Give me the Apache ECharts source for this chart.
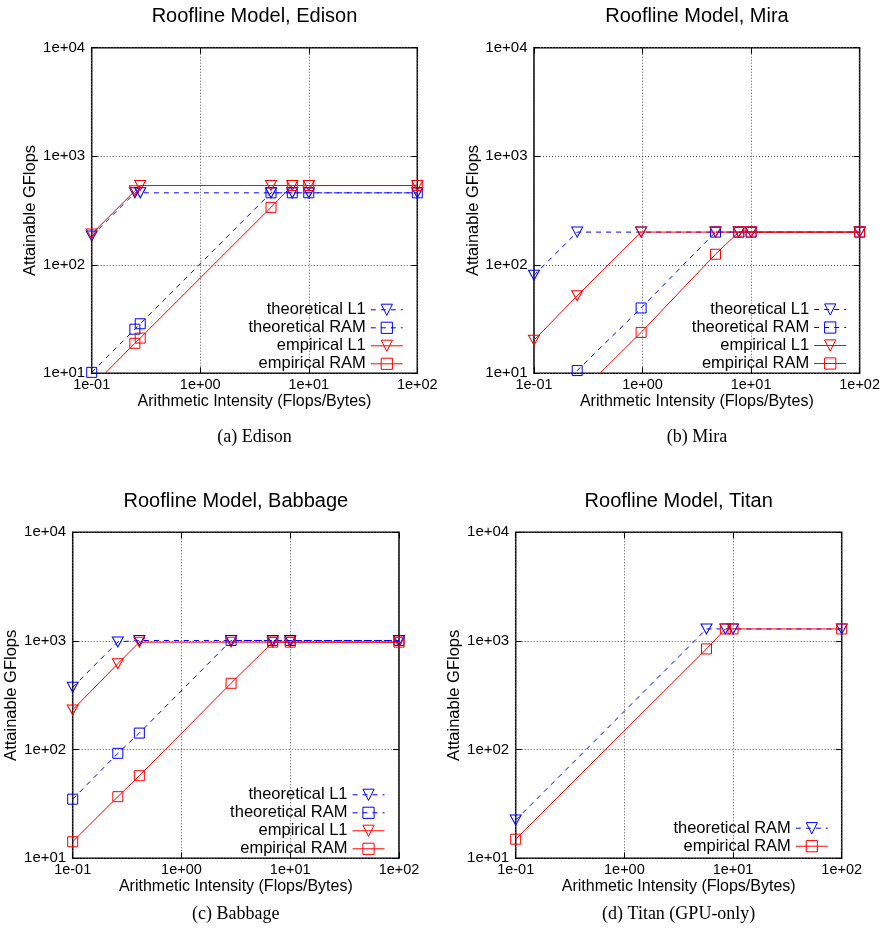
<!DOCTYPE html>
<html><head><meta charset="utf-8">
<script src="https://cdn.jsdelivr.net/npm/echarts@6/dist/echarts.min.js"></script>
<style>html,body{margin:0;padding:0;background:#fff}#c{width:883px;height:942px}</style>
</head><body><div id="c"></div>
<script>
// ---- Data ----
const edisonX      = [0.1, 0.25, 0.28, 4.49, 7.05, 10, 100];
const edisonThL1   = [184, 460, 460, 460, 460, 460, 460];
const edisonThRAM  = [10.2, 25.5, 28.6, 460, 460, 460, 460];
const edisonEmpL1  = [192, 480, 537, 537, 537, 537, 537];
const edisonEmpRAM = [7.5, 18.9, 21.1, 338, 537, 537, 537];

const miraX      = [0.1, 0.25, 0.97, 4.7, 7.7, 10, 100];
const miraThL1   = [80, 200, 200, 200, 200, 200, 200];
const miraThRAM  = [4.3, 10.6, 40, 200, 200, 200, 200];
const miraEmpL1  = [20.2, 51.8, 200, 200, 200, 200, 200];
const miraEmpRAM = [2.5, 6.2, 23.8, 125, 200, 200, 200];

const babbageX      = [0.1, 0.26, 0.41, 2.86, 6.9, 10, 100];
const babbageThL1   = [375, 980, 1010, 1010, 1010, 1010, 1010];
const babbageThRAM  = [35, 92.5, 142, 1010, 1010, 1010, 1010];
const babbageEmpL1  = [232, 618, 975, 975, 975, 975, 975];
const babbageEmpRAM = [14.2, 36.9, 57.5, 408, 975, 975, 975];

const titanX      = [0.1, 5.7, 8.5, 10, 100];
const titanThRAM  = [22.5, 1290, 1290, 1290, 1290];
const titanEmpRAM = [15, 845, 1290, 1290, 1290];

const panelTitles   = ['Roofline Model, Edison', 'Roofline Model, Mira', 'Roofline Model, Babbage', 'Roofline Model, Titan'];
const panelCaptions = ['(a) Edison', '(b) Mira', '(c) Babbage', '(d) Titan (GPU-only)'];
const xAxisName = 'Arithmetic Intensity (Flops/Bytes)';
const yAxisName = 'Attainable GFlops';

// ---- Layout ----
const grids = [
  {left: 91.7, top: 47.7, width: 325.6, height: 325.6},
  {left: 534, top: 47.7, width: 326, height: 325.6},
  {left: 72.7, top: 532.3, width: 326.3, height: 326},
  {left: 515.7, top: 532.3, width: 326, height: 326}
];
const titleY   = [16.5, 16.5, 501, 501];
const captionY = [437, 437, 914, 914];
const legendPos = [
  {right: 479.7, top: 301.3},
  {right: 36.3, top: 301},
  {right: 498, top: 786.3},
  {right: 54.7, top: 819.7}
];

const BLUE = '#0000ff', RED = '#ff0000';
const styles = {
  thL1:   {color: BLUE, dash: [5, 5], symbol: 'triangle', rot: 180, size: [11, 10]},
  thRAM:  {color: BLUE, dash: [5, 5], symbol: 'rect', rot: 0, size: 10},
  empL1:  {color: RED, dash: 'solid', symbol: 'triangle', rot: 180, size: [11, 10]},
  empRAM: {color: RED, dash: 'solid', symbol: 'rect', rot: 0, size: 10}
};

const panels = [
  {x: edisonX, series: [['theoretical L1', edisonThL1, 'thL1'], ['theoretical RAM', edisonThRAM, 'thRAM'], ['empirical L1', edisonEmpL1, 'empL1'], ['empirical RAM', edisonEmpRAM, 'empRAM']]},
  {x: miraX, series: [['theoretical L1', miraThL1, 'thL1'], ['theoretical RAM', miraThRAM, 'thRAM'], ['empirical L1', miraEmpL1, 'empL1'], ['empirical RAM', miraEmpRAM, 'empRAM']]},
  {x: babbageX, series: [['theoretical L1', babbageThL1, 'thL1'], ['theoretical RAM', babbageThRAM, 'thRAM'], ['empirical L1', babbageEmpL1, 'empL1'], ['empirical RAM', babbageEmpRAM, 'empRAM']]},
  {x: titanX, series: [['theoretical RAM', titanThRAM, 'thL1'], ['empirical RAM', titanEmpRAM, 'empRAM']]}
];

function expLabel(v) {
  const e = Math.round(Math.log10(v));
  const a = Math.abs(e);
  return '1e' + (e < 0 ? '-' : '+') + (a < 10 ? '0' : '') + a;
}

const FONT = 'Liberation Sans, Arial, Helvetica, sans-serif';
const option = {
  animation: false,
  backgroundColor: '#fff',
  grid: [], xAxis: [], yAxis: [], series: [], legend: [], graphic: []
};

panels.forEach((p, i) => {
  const g = grids[i];
  option.grid.push(Object.assign({show: true, borderColor: '#000', borderWidth: 1.5, backgroundColor: 'transparent', containLabel: false}, g));
  const tick = {show: true, inside: true, length: 6, lineStyle: {color: '#000', width: 1}};
  const split = {show: true, lineStyle: {color: '#555', width: 1, type: [1, 2]}};
  option.xAxis.push({
    type: 'log', logBase: 10, min: 0.1, max: 100, gridIndex: i, position: 'bottom',
    axisLine: {show: false}, axisTick: tick, splitLine: split, minorTick: {show: false},
    axisLabel: {formatter: expLabel, color: '#000', fontFamily: FONT, fontSize: 14.5, margin: 4, showMinLabel: true, showMaxLabel: true},
    name: xAxisName, nameLocation: 'middle', nameGap: 19,
    nameTextStyle: {color: '#000', fontFamily: FONT, fontSize: 16}
  });
  option.xAxis.push({
    type: 'log', logBase: 10, min: 0.1, max: 100, gridIndex: i, position: 'top',
    axisLine: {show: false}, axisTick: tick, splitLine: {show: false}, axisLabel: {show: false}
  });
  option.yAxis.push({
    type: 'log', logBase: 10, min: 10, max: 10000, gridIndex: i, position: 'left',
    axisLine: {show: false}, axisTick: tick, splitLine: split, minorTick: {show: false},
    axisLabel: {formatter: expLabel, color: '#000', fontFamily: FONT, fontSize: 15, margin: 6.5, showMinLabel: true, showMaxLabel: true},
    name: yAxisName, nameLocation: 'middle', nameGap: 42,
    nameTextStyle: {color: '#000', fontFamily: FONT, fontSize: 16.5}
  });
  option.yAxis.push({
    type: 'log', logBase: 10, min: 10, max: 10000, gridIndex: i, position: 'right',
    axisLine: {show: false}, axisTick: tick, splitLine: {show: false}, axisLabel: {show: false}
  });
  const legendItems = [];
  p.series.forEach(([label, ys, key]) => {
    const st = styles[key];
    const nm = String.fromCharCode(97 + i) + '|' + label;
    legendItems.push({
      name: nm,
      lineStyle: {color: st.color, width: 1, type: st.dash},
      itemStyle: {color: 'rgba(0,0,0,0)', borderColor: st.color, borderWidth: 1}
    });
    option.series.push({
      type: 'line', name: nm, xAxisIndex: 2 * i, yAxisIndex: 2 * i, clip: true,
      data: p.x.map((xv, k) => [xv, ys[k]]),
      symbol: st.symbol, symbolRotate: st.rot, symbolSize: st.size, showSymbol: true,
      lineStyle: {color: st.color, width: 1, type: st.dash},
      itemStyle: {color: 'rgba(0,0,0,0)', borderColor: st.color, borderWidth: 1},
      emphasis: {disabled: true}, silent: true
    });
  });
  option.legend.push(Object.assign({
    orient: 'vertical', align: 'right', data: legendItems,
    itemWidth: 32, itemHeight: 14, itemGap: 1, padding: 0,
    formatter: n => n.slice(2),
    textStyle: {color: '#000', fontFamily: FONT, fontSize: 16.5, lineHeight: 14},
    selectedMode: false
  }, legendPos[i]));
  const cx = g.left + g.width / 2;
  option.graphic.push({
    type: 'text', x: cx, y: titleY[i], silent: true,
    style: {text: panelTitles[i], fill: '#000', font: '20px ' + FONT, textAlign: 'center', textVerticalAlign: 'middle'}
  });
  option.graphic.push({
    type: 'text', x: cx, y: captionY[i], silent: true,
    style: {text: panelCaptions[i], fill: '#000', font: '18px "Liberation Serif", "Times New Roman", serif', textAlign: 'center', textVerticalAlign: 'middle'}
  });
});

const chart = echarts.init(document.getElementById('c'), null, {renderer: 'canvas'});
chart.setOption(option);
</script>
</body></html>
